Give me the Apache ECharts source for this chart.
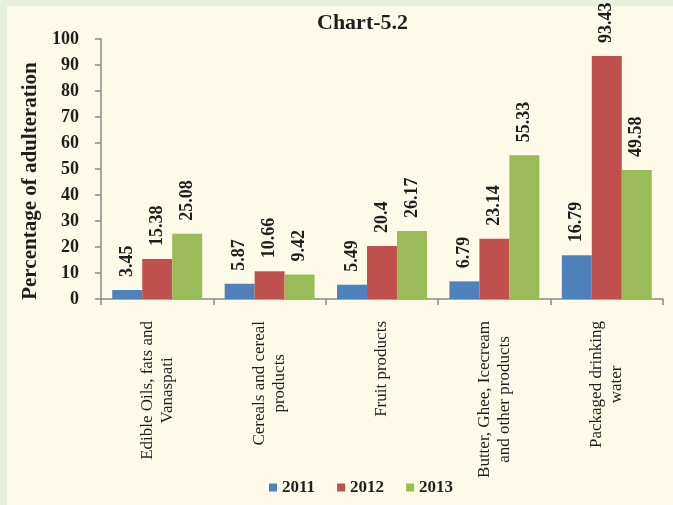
<!DOCTYPE html>
<html>
<head>
<meta charset="utf-8">
<script src="https://cdn.jsdelivr.net/npm/echarts@6/dist/echarts.min.js"></script>
<style>
  html, body { margin: 0; padding: 0; width: 673px; height: 505px; background: #e7f0dd; overflow: hidden; }
  #panel { position: absolute; left: 7px; top: 6px; right: 0; bottom: 0; background: #fdfbe7; }
  #chart { position: absolute; left: 0; top: 0; width: 673px; height: 505px; }
</style>
</head>
<body>
<div id="panel"></div>
<div id="chart"></div>
<script>
const categories = [
  "Edible Oils, fats and\nVanaspati",
  "Cereals and cereal\nproducts",
  "Fruit products",
  "Butter, Ghee, Icecream\nand other products",
  "Packaged drinking\nwater"
];
const years = ["2011", "2012", "2013"];
const values2011 = [3.45, 5.87, 5.49, 6.79, 16.79];
const values2012 = [15.38, 10.66, 20.4, 23.14, 93.43];
const values2013 = [25.08, 9.42, 26.17, 55.33, 49.58];
const yTicks = { min: 0, max: 100, interval: 10 };

const serif = '"Liberation Serif", "Times New Roman", serif';
const colors = ['#4f81bd', '#c0504d', '#9bbb59'];
const axisGray = '#898989';

const labelStyle = {
  show: true,
  position: 'top',
  rotate: 90,
  align: 'left',
  verticalAlign: 'middle',
  distance: 13,
  fontFamily: serif,
  fontWeight: 'bold',
  fontSize: 18,
  color: '#1e1e1e'
};

const seriesData = [values2011, values2012, values2013];

const chart = echarts.init(document.getElementById('chart'), null, { renderer: 'canvas' });
chart.setOption({
  backgroundColor: 'transparent',
  animation: false,
  color: colors,
  title: {
    text: 'Chart-5.2',
    left: 312,
    top: 7,
    textStyle: { fontFamily: serif, fontWeight: 'bold', fontSize: 22, color: '#1e1e1e' }
  },
  legend: {
    data: years,
    left: 264,
    top: 474,
    itemWidth: 8,
    itemHeight: 8,
    itemGap: 22,
    icon: 'rect',
    textStyle: { fontFamily: serif, fontWeight: 'bold', fontSize: 17, color: '#1e1e1e' }
  },
  grid: { left: 101, right: 10, top: 39, bottom: 206, containLabel: false },
  xAxis: {
    type: 'category',
    data: categories,
    boundaryGap: true,
    axisLine: { show: true, lineStyle: { color: axisGray, width: 1.5 } },
    axisTick: { show: true, length: 6, lineStyle: { color: axisGray, width: 1.5 } },
    axisLabel: {
      interval: 0,
      rotate: 90,
      margin: 22,
      formatter: function (v) {
        return v.split('\n').map(function (s) { return '{a|' + s + '}'; }).join('\n');
      },
      rich: {
        a: { align: 'center', fontFamily: serif, fontSize: 17, lineHeight: 20, color: '#1e1e1e' }
      }
    },
    splitLine: { show: false }
  },
  yAxis: {
    type: 'value',
    min: yTicks.min,
    max: yTicks.max,
    interval: yTicks.interval,
    name: 'Percentage of adulteration',
    nameLocation: 'middle',
    nameGap: 60,
    nameTextStyle: { fontFamily: serif, fontWeight: 'bold', fontSize: 21, color: '#1e1e1e', padding: [0, 24, 0, 0] },
    axisLine: { show: true, lineStyle: { color: axisGray, width: 1.5 } },
    axisTick: { show: true, length: 6, lineStyle: { color: axisGray, width: 1.5 } },
    axisLabel: { margin: 22, fontFamily: serif, fontWeight: 'bold', fontSize: 18, color: '#1e1e1e' },
    splitLine: { show: false }
  },
  series: years.map(function (y, i) {
    return {
      name: y,
      type: 'bar',
      data: seriesData[i],
      barGap: '0%',
      barCategoryGap: '20%',
      label: labelStyle
    };
  })
});
</script>
</body>
</html>
